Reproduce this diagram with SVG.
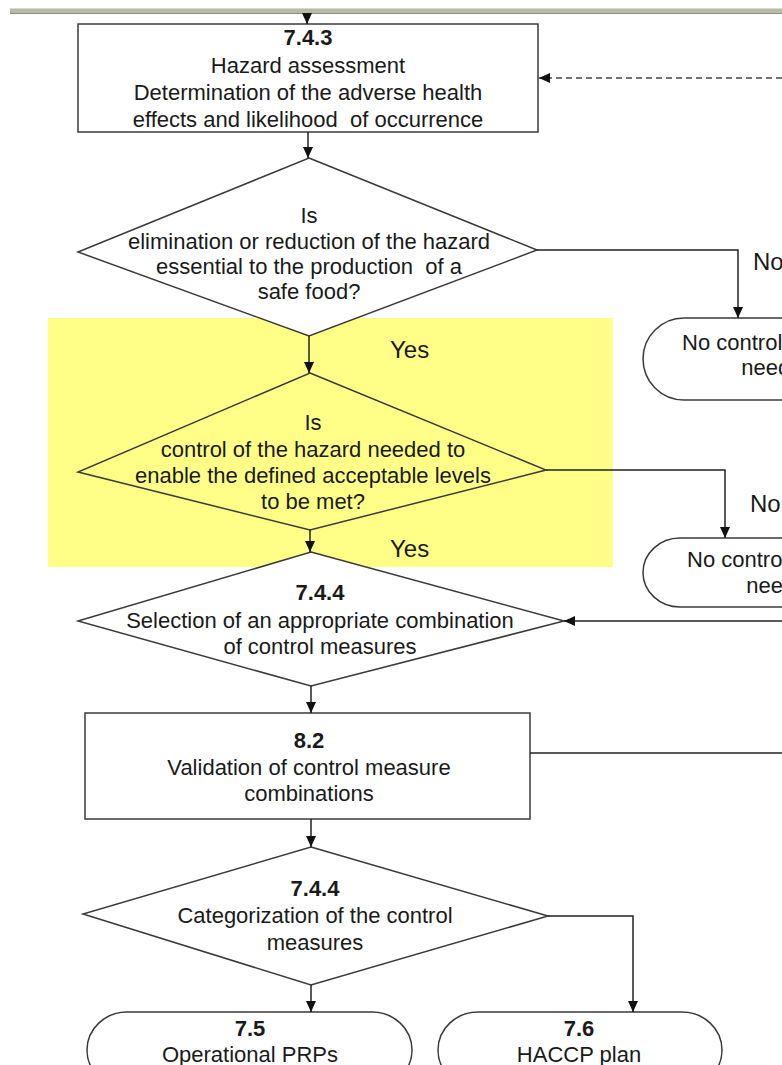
<svg xmlns="http://www.w3.org/2000/svg" width="782" height="1065" viewBox="0 0 782 1065">
<defs>
<marker id="ah" markerUnits="userSpaceOnUse" markerWidth="11" markerHeight="12" refX="11" refY="5" orient="auto"><path d="M0,0 L11,5 L0,10 z" fill="#111"/></marker>
</defs>
<style>
.t{font-family:"Liberation Sans",Arial,sans-serif;font-size:22px;fill:#1a1a1a;text-anchor:middle;white-space:pre}
.b{font-weight:bold}
.l{font-family:"Liberation Sans",Arial,sans-serif;font-size:24px;fill:#1a1a1a}
.s{fill:#fff;stroke:#3a3a3a;stroke-width:1.5}
.d{fill:none;stroke:#3a3a3a;stroke-width:1.5}
.c{fill:none;stroke:#222;stroke-width:1.5}
</style>
<rect x="0" y="0" width="782" height="1065" fill="#fff"/>
<g id="topbar">
<rect x="10" y="8" width="772" height="6" fill="#b9b9a9"/>
<line x1="10" y1="8.5" x2="782" y2="8.5" stroke="#d8d8cc" stroke-width="1"/>
<line x1="10" y1="13.5" x2="782" y2="13.5" stroke="#8f8f80" stroke-width="1"/>
</g>
<g id="highlight"><rect x="48" y="318" width="565" height="249" fill="#ffff88"/></g>
<g id="n743">
<rect class="s" x="78" y="24" width="460" height="108"/>
<text class="t b" x="308" y="45">7.4.3</text>
<text class="t" x="308" y="73">Hazard assessment</text>
<text class="t" x="308" y="100">Determination of the adverse health</text>
<text class="t" x="308" y="127" xml:space="preserve">effects and likelihood  of occurrence</text>
</g>
<g id="q1">
<polygon class="s" points="309,158 537,250 309,336 78,252"/>
<text class="t" x="309" y="223">Is</text>
<text class="t" x="309" y="249">elimination or reduction of the hazard</text>
<text class="t" x="309" y="274" xml:space="preserve">essential to the production  of a</text>
<text class="t" x="309" y="299">safe food?</text>
</g>
<g id="q2">
<polygon class="d" points="310,373 546,470 310,530 78,472"/>
<text class="t" x="313" y="430">Is</text>
<text class="t" x="313" y="457">control of the hazard needed to</text>
<text class="t" x="313" y="483">enable the defined acceptable levels</text>
<text class="t" x="313" y="509">to be met?</text>
</g>
<g id="n744a">
<polygon class="s" points="311,552 564,621 311,686 78,621"/>
<text class="t b" x="320" y="600">7.4.4</text>
<text class="t" x="320" y="628">Selection of an appropriate combination</text>
<text class="t" x="320" y="654">of control measures</text>
</g>
<g id="n82">
<rect class="s" x="85" y="713" width="445" height="106"/>
<text class="t b" x="309" y="748">8.2</text>
<text class="t" x="309" y="775">Validation of control measure</text>
<text class="t" x="309" y="801">combinations</text>
</g>
<g id="n744b">
<polygon class="s" points="311,847 548,916 311,985 83,914"/>
<text class="t b" x="315" y="896">7.4.4</text>
<text class="t" x="315" y="923">Categorization of the control</text>
<text class="t" x="315" y="950">measures</text>
</g>
<g id="nc1">
<path class="s" d="M790,318 H684 A41,41 0 0 0 684,400 H790"/>
<text class="t" x="778" y="350">No control measure</text>
<text class="t" x="778" y="375">needed</text>
</g>
<g id="nc2">
<path class="s" d="M790,538 H680 A37,34.5 0 0 0 680,607 H790"/>
<text class="t" x="783" y="567">No control measure</text>
<text class="t" x="783" y="593">needed</text>
</g>
<g id="n75">
<path class="s" d="M127,1012 H372 A40,38 0 0 1 372,1088 H127 A40,38 0 0 1 127,1012 Z"/>
<text class="t b" x="250" y="1036">7.5</text>
<text class="t" x="250" y="1062">Operational PRPs</text>
</g>
<g id="n76">
<path class="s" d="M478,1012 H682 A40,38 0 0 1 682,1088 H478 A40,38 0 0 1 478,1012 Z"/>
<text class="t b" x="579" y="1036">7.6</text>
<text class="t" x="579" y="1062">HACCP plan</text>
</g>
<g id="connectors">
<line class="c" x1="307" y1="14" x2="307" y2="24" marker-end="url(#ah)"/>
<line x1="782" y1="78" x2="539" y2="78" stroke="#444" stroke-width="1.3" stroke-dasharray="6,4" marker-end="url(#ah)"/>
<line class="c" x1="308" y1="132" x2="308" y2="158" marker-end="url(#ah)"/>
<polyline class="c" points="537,250 738,250 738,318" marker-end="url(#ah)"/>
<line class="c" x1="309" y1="336" x2="309" y2="373" marker-end="url(#ah)"/>
<polyline class="c" points="546,470 725,470 725,538" marker-end="url(#ah)"/>
<line class="c" x1="310" y1="530" x2="310" y2="552" marker-end="url(#ah)"/>
<line class="c" x1="782" y1="621" x2="564" y2="621" marker-end="url(#ah)"/>
<line class="c" x1="311" y1="686" x2="311" y2="713" marker-end="url(#ah)"/>
<line class="c" x1="530" y1="753" x2="782" y2="753"/>
<line class="c" x1="311" y1="819" x2="311" y2="847" marker-end="url(#ah)"/>
<polyline class="c" points="548,916 633,916 633,1012" marker-end="url(#ah)"/>
<line class="c" x1="311" y1="985" x2="311" y2="1012" marker-end="url(#ah)"/>
<text class="l" x="753" y="270">No</text>
<text class="l" x="390" y="358">Yes</text>
<text class="l" x="750" y="512">No</text>
<text class="l" x="390" y="557">Yes</text>
</g>
</svg>
